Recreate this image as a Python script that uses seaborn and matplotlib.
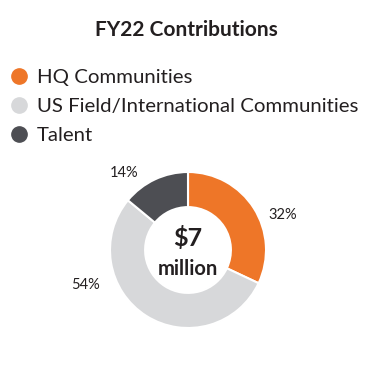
import matplotlib
matplotlib.use("Agg")
import matplotlib.pyplot as plt
from matplotlib.lines import Line2D
import seaborn as sns

categories = ["HQ Communities", "US Field/International Communities", "Talent"]
values = [32, 54, 14]
pct_labels = ["32%", "54%", "14%"]
colors = ["#EE7628", "#D7D8DA", "#4D4E53"]
title = "FY22 Contributions"
center_top = "$7"
center_bottom = "million"

sns.set_theme(style="white")
plt.rcParams["font.family"] = ["Lato", "DejaVu Sans"]
text_color = "#231F20"

fig = plt.figure(figsize=(3.7, 3.7), dpi=100)
fig.patch.set_facecolor("white")

fig.text(0.505, 1 - 30 / 370, title, ha="center", va="center",
         fontsize=15, fontweight="bold", color=text_color)

ax = fig.add_axes([110 / 370, (370 - 328) / 370, 156 / 370, 156 / 370])
wedges, _ = ax.pie(values, colors=colors, startangle=90, counterclock=False,
                   wedgeprops=dict(width=0.45, edgecolor="white", linewidth=1.5))
ax.set_xlim(-1, 1)
ax.set_ylim(-1, 1)
ax.set_aspect("equal")
ax.axis("off")

label_pos = [(1.22, 0.45), (-1.32, -0.45), (-0.82, 0.99)]
for (x, y), t in zip(label_pos, pct_labels):
    ax.text(x, y, t, ha="center", va="center", fontsize=10.5, color=text_color, clip_on=False)

ax.text(0, 0.15, center_top, ha="center", va="center", fontsize=18, fontweight="bold", color=text_color)
ax.text(0, -0.24, center_bottom, ha="center", va="center", fontsize=14.5, fontweight="bold", color=text_color)

handles = [Line2D([0], [0], marker="o", linestyle="", markersize=11,
                  markerfacecolor=c, markeredgecolor=c) for c in colors]
leg = fig.legend(handles, categories, loc="upper left",
                 bbox_to_anchor=(0.0, 1 - 61 / 370), frameon=False,
                 fontsize=14.7, labelspacing=0.56, handletextpad=0.3,
                 handlelength=1.1, borderaxespad=0)
for t in leg.get_texts():
    t.set_color(text_color)

fig.savefig("out.png", dpi=100)
